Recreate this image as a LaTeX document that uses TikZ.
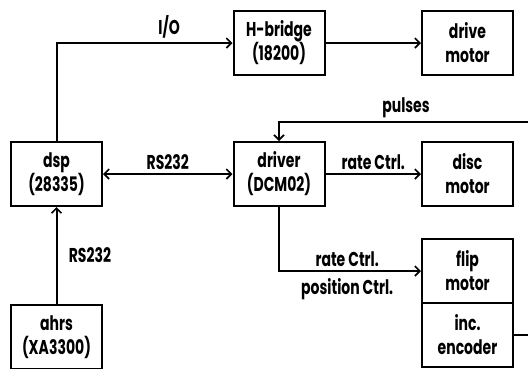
\documentclass[tikz,border=0pt]{standalone}
\usepackage{fontspec}
\setmainfont{Poppins}[FakeStretch=0.7]
\usepackage{tikz}
\usetikzlibrary{positioning, arrows.meta}

\tikzset{
  blk/.style={draw, line width=2pt, minimum width=91pt, minimum height=64pt,
              align=center, inner sep=2pt},
  lnk/.style={line width=2pt, -{Straight Barb[length=5pt,width=10pt,line width=1.6pt]}},
  lbl/.style={font=\fontsize{20}{22}\selectfont\bfseries}
}

\begin{document}
\begin{tikzpicture}[x=1pt, y=-1pt, font=\fontsize{20}{24}\selectfont\bfseries]
  \useasboundingbox (0,0) rectangle (528,368);

  % blocks
  \node[blk] (dsp)     at (56.5,174)  {dsp\\(28335)};
  \node[blk] (hbridge) at (279,43)    {H-bridge\\(18200)};
  \node[blk] (drive)   at (467.5,43)  {drive\\motor};
  \node[blk] (driver)  at (279,174)   {driver\\(DCM02)};
  \node[blk] (disc)    at (467.5,174) {disc\\motor};
  \node[blk] (flip)    at (467.5,271) {flip\\motor};
  \node[blk] (enc)     at (467.5,335) {inc.\\encoder};
  \node[blk] (ahrs)    at (56.5,337)  {ahrs\\(XA3300)};

  % loose ends at the right border
  \coordinate (pin)  at (528,122);
  \coordinate (eout) at (528,335);

  % links
  \draw[lnk] (dsp.north) |- node[lbl, above, pos=0.82] {I/O} (hbridge.west);
  \draw[lnk] (hbridge) -- (drive);
  \draw[lnk, {Straight Barb[length=5pt,width=10pt,line width=1.6pt]}-{Straight Barb[length=5pt,width=10pt,line width=1.6pt]}]
    (dsp) -- node[lbl, above] {RS232} (driver);
  \draw[lnk] (pin) -| node[lbl, above, pos=0.245] {pulses} (driver.north);
  \draw[lnk] (driver) -- node[lbl, above] {rate Ctrl.} (disc);
  \draw[lnk] (driver.south) |- node[lbl, above, pos=0.74] {rate Ctrl.}
    node[lbl, below, pos=0.74, yshift=-3pt] {position Ctrl.} (flip.west);
  \draw[line width=2pt] (enc.east) -- (eout);
  \draw[lnk] (ahrs.north) -- node[lbl, right, xshift=8pt] {RS232} (dsp.south);
\end{tikzpicture}
\end{document}
